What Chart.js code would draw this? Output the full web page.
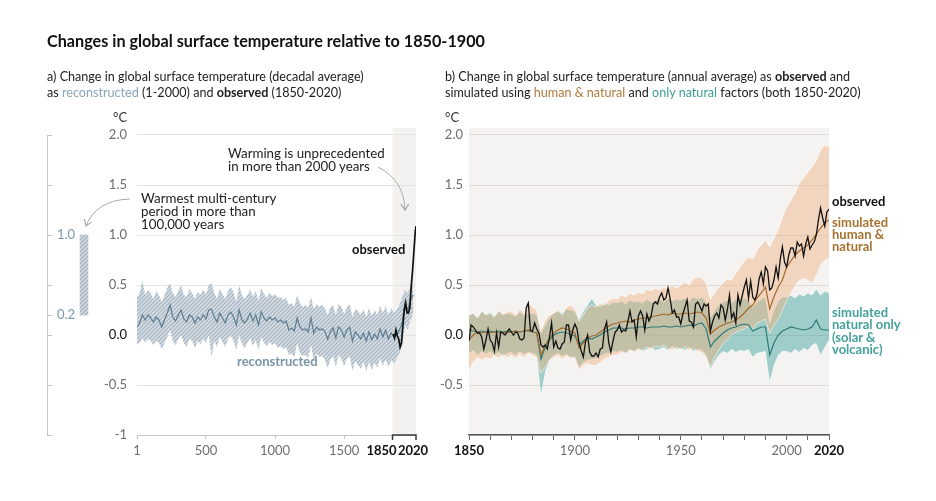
<!DOCTYPE html>
<html><head><meta charset="utf-8">
<script src="https://cdn.jsdelivr.net/npm/chart.js@4.4.1/dist/chart.umd.min.js"></script>
<style>
html,body{margin:0;padding:0;background:#fff;}
#wrap{position:relative;width:936px;height:501px;overflow:hidden;font-family:Lato,'Noto Sans',sans-serif;color:#1a1a1a;}
canvas{position:absolute;top:0;}
.t{position:absolute;white-space:nowrap;font-size:13px;}
svg{position:absolute;left:0;top:0;pointer-events:none;}
</style></head><body>
<div id="wrap">
<canvas id="cA" width="440" height="470" style="left:0px"></canvas>
<canvas id="cS" width="121" height="470" style="left:0px"></canvas>
<canvas id="cB" width="496" height="470" style="left:440px"></canvas>
<svg width="936" height="501">
 <defs><marker id="ah" markerWidth="9" markerHeight="9" refX="6" refY="4" orient="auto" markerUnits="userSpaceOnUse"><path d="M0,0 L6,4 L0,8" fill="none" stroke="#9c9c9c" stroke-width="1"/></marker></defs>
 <path d="M130,199 Q96,200 86,226" fill="none" stroke="#aaaaaa" stroke-width="1" marker-end="url(#ah)"/>
 <path d="M378,167 Q404,180 405,210" fill="none" stroke="#aaaaaa" stroke-width="1" marker-end="url(#ah)"/>
</svg>
<div class="t" style="left:47px;top:31px;font-size:16.2px;font-weight:bold;line-height:20px;color:#111">Changes in global surface temperature relative to 1850-1900</div>
<div class="t" style="left:47px;top:69px;font-size:12.6px;line-height:15.5px;color:#222">a) Change in global surface temperature (decadal average)<br>as <span style="color:#8aa6ba">reconstructed</span> (1-2000) and <b>observed</b> (1850-2020)</div>
<div class="t" style="left:445px;top:69px;font-size:12.6px;line-height:15.5px;color:#222">b) Change in global surface temperature (annual average) as <b>observed</b> and<br>simulated using <span style="color:#b07b3c">human &amp; natural</span> and <span style="color:#3f9d97">only natural</span> factors (both 1850-2020)</div>
<div class="t" style="left:113px;top:109px;line-height:16px;color:#333">°C</div>
<div class="t" style="left:445px;top:109px;line-height:16px;color:#333">°C</div>
<div class="t" style="left:228px;top:147px;line-height:13px;font-size:13.3px;color:#222">Warming is unprecedented<br>in more than 2000 years</div>
<div class="t" style="left:141px;top:192px;line-height:13px;font-size:13.3px;color:#222">Warmest multi-century<br>period in more than<br>100,000 years</div>
<div class="t" style="left:352px;top:243px;line-height:13px;font-weight:bold;color:#111">observed</div>
<div class="t" style="left:237px;top:355px;line-height:13px;font-weight:bold;color:#7a95a7">reconstructed</div>
<div class="t" style="left:832px;top:195px;line-height:13px;font-weight:bold;color:#111">observed</div>
<div class="t" style="left:832px;top:216px;line-height:12px;font-weight:bold;color:#a8722f">simulated<br>human &amp;<br>natural</div>
<div class="t" style="left:832px;top:306px;line-height:12.4px;font-weight:bold;color:#44a29b">simulated<br>natural only<br>(solar &amp;<br>volcanic)</div>
</div>
<script>
// ---------- DATA ----------
// Panel a: reconstructed (20-year steps, 1-2000)
const reconYears = [1].concat(Array.from({length:100},(_,i)=>20*(i+1)));
const reconMean = [0.08,0.12,0.20,0.15,0.20,0.17,0.13,0.18,0.15,0.08,
 0.15,0.22,0.30,0.18,0.14,0.20,0.25,0.16,0.13,0.20,
 0.18,0.12,0.18,0.15,0.20,0.16,0.25,0.26,0.18,0.13,
 0.22,0.17,0.12,0.20,0.23,0.18,0.10,0.25,0.15,0.12,
 0.16,0.22,0.14,0.20,0.10,0.23,0.17,0.14,0.18,0.15,
 0.17,0.13,0.15,0.12,0.14,0.05,0.07,0.04,0.17,0.08,
 0.05,0.06,0.03,0.17,0.02,0.08,0.05,0.06,0.04,-0.04,
 0.03,0.07,-0.03,0.08,0.05,-0.02,0.05,0.08,-0.06,0.03,
 0.00,-0.04,0.02,-0.06,0.03,-0.05,0.01,-0.04,0.06,-0.02,
 0.05,-0.04,0.02,-0.02,0.00,0.05,0.12,0.32,0.25,0.35,0.40];
const reconHigh = [0.38,0.42,0.55,0.40,0.45,0.42,0.36,0.44,0.40,0.33,
 0.40,0.47,0.52,0.42,0.38,0.44,0.50,0.40,0.38,0.46,
 0.42,0.36,0.43,0.40,0.46,0.40,0.50,0.52,0.42,0.36,
 0.46,0.41,0.36,0.44,0.48,0.42,0.33,0.50,0.40,0.36,
 0.40,0.46,0.38,0.44,0.34,0.47,0.41,0.37,0.42,0.39,
 0.41,0.37,0.38,0.35,0.37,0.30,0.32,0.28,0.40,0.32,
 0.28,0.30,0.27,0.38,0.26,0.31,0.28,0.30,0.27,0.20,
 0.27,0.30,0.20,0.31,0.28,0.21,0.28,0.31,0.18,0.26,
 0.24,0.20,0.26,0.18,0.27,0.19,0.25,0.20,0.29,0.22,
 0.29,0.20,0.27,0.22,0.25,0.30,0.38,0.45,0.42,0.48,0.52];
const reconLow = [-0.10,-0.08,-0.03,-0.08,-0.04,-0.06,-0.10,-0.06,-0.08,-0.14,
 -0.08,-0.02,0.05,-0.06,-0.10,-0.04,0.00,-0.08,-0.12,-0.04,
 -0.06,-0.13,-0.06,-0.09,-0.04,-0.08,0.00,-0.22,-0.06,-0.12,
 -0.02,-0.07,-0.12,-0.04,-0.01,-0.06,-0.15,0.00,-0.09,-0.13,
 -0.08,-0.03,-0.11,-0.05,-0.15,-0.02,-0.08,-0.11,-0.07,-0.10,
 -0.08,-0.13,-0.11,-0.14,-0.12,-0.20,-0.18,-0.22,-0.08,-0.18,
 -0.21,-0.20,-0.23,-0.10,-0.25,-0.19,-0.22,-0.21,-0.24,-0.33,
 -0.25,-0.21,-0.32,-0.20,-0.24,-0.31,-0.24,-0.21,-0.36,-0.26,
 -0.30,-0.34,-0.27,-0.36,-0.27,-0.35,-0.28,-0.33,-0.23,-0.31,
 -0.24,-0.32,-0.25,-0.28,-0.24,-0.18,-0.10,0.10,0.05,0.15,0.22];
// Panel a: observed decadal
const obsDecYears = [1855,1865,1875,1885,1895,1905,1915,1925,1935,1945,1955,1965,1975,1985,1995,2005,2015,2020];
const obsDecadal = [0.01,-0.03,0.05,-0.01,-0.04,-0.12,-0.08,0.09,0.25,0.32,0.22,0.22,0.27,0.48,0.64,0.84,1.04,1.09];
// Panel a: scale bar (warmest multi-century period)
const warmRange = [0.2, 1.0];
const periodMarks = [1850, 2020];

// Panel b: observed annual 1850-2020
const annualYears = Array.from({length:171},(_,i)=>1850+i);
const observedAnnual = [
 -0.06,0.10,0.08,0.05,0.02,0.02,-0.02,-0.14,-0.05,0.06,
 -0.05,-0.08,-0.16,0.02,-0.12,0.03,0.02,0.00,0.03,0.06,
 0.03,0.00,0.03,0.02,-0.04,-0.05,-0.03,0.27,0.32,0.05,
 0.04,0.12,0.06,0.02,-0.10,-0.12,-0.10,-0.14,-0.02,0.12,
 -0.12,-0.06,-0.13,-0.14,-0.09,-0.07,0.10,0.10,-0.05,0.05,
 0.11,0.06,-0.08,-0.16,-0.22,-0.07,0.00,-0.17,-0.21,-0.21,
 -0.18,-0.22,-0.14,-0.13,0.06,0.13,-0.08,-0.17,-0.06,0.03,
 0.05,0.10,0.03,0.05,0.04,0.13,0.24,0.13,0.15,-0.02,
 0.19,0.24,0.19,0.05,0.21,0.14,0.19,0.31,0.33,0.31,
 0.38,0.42,0.35,0.37,0.47,0.36,0.22,0.25,0.18,0.18,
 0.11,0.21,0.28,0.35,0.14,0.13,0.08,0.31,0.33,0.29,
 0.24,0.31,0.29,0.31,0.04,0.13,0.19,0.22,0.17,0.30,
 0.27,0.15,0.25,0.40,0.17,0.22,0.12,0.40,0.30,0.39,
 0.48,0.55,0.37,0.54,0.38,0.35,0.41,0.56,0.63,0.51,
 0.68,0.64,0.45,0.47,0.55,0.68,0.57,0.76,0.88,0.73,
 0.68,0.80,0.87,0.87,0.79,0.93,0.89,0.91,0.79,0.91,
 0.98,0.86,0.90,0.93,1.00,1.15,1.27,1.17,1.09,1.23,
 1.26];
// Panel b: simulations (every 2 years)
const simYears = Array.from({length:86},(_,i)=>1850+2*i);
const humanNaturalMean = [
 -0.05,0.00,0.03,0.02,0.03, 0.02,0.03,0.02,0.03,0.02, 0.03,0.04,0.03,0.04,0.05,
 0.03,0.02,-0.20,-0.10,-0.03, 0.02,0.05,0.07,0.06,0.04, 0.02,-0.13,-0.08,-0.03,-0.01,
 0.00,0.03,0.06,0.09,0.11, 0.12,0.13,0.14,0.13,0.15, 0.16,0.17,0.17,0.18,0.19,
 0.20,0.21,0.20,0.22,0.21, 0.21,0.22,0.21,0.22,0.23, 0.22,0.17,0.01,0.05,0.08,
 0.10,0.12,0.13,0.15,0.18, 0.22,0.27,0.30,0.37,0.42, 0.48,0.26,0.38,0.48,0.55,
 0.68,0.74,0.80,0.84,0.87, 0.90,0.95,1.01,1.07,1.12, 1.15];
const humanNaturalHigh = [
 0.20,0.22,0.17,0.24,0.20, 0.22,0.18,0.25,0.21,0.23, 0.24,0.20,0.26,0.22,0.32,
 0.28,0.25,0.05,0.15,0.20, 0.22,0.25,0.20,0.28,0.30, 0.26,0.14,0.20,0.27,0.30,
 0.28,0.32,0.30,0.35,0.37, 0.36,0.40,0.38,0.42,0.40, 0.43,0.41,0.46,0.44,0.47,
 0.45,0.48,0.46,0.50,0.47, 0.50,0.53,0.50,0.56,0.58, 0.57,0.52,0.36,0.42,0.48,
 0.52,0.56,0.55,0.62,0.68, 0.74,0.78,0.76,0.85,0.90, 0.95,0.88,0.97,1.05,1.18,
 1.28,1.35,1.42,1.52,1.57, 1.63,1.68,1.75,1.85,1.90, 1.88];
const humanNaturalLow = [
 -0.35,-0.27,-0.22,-0.25,-0.22, -0.24,-0.20,-0.23,-0.19,-0.22, -0.20,-0.23,-0.19,-0.22,-0.18,
 -0.20,-0.22,-0.38,-0.32,-0.25, -0.22,-0.20,-0.24,-0.21,-0.23, -0.22,-0.35,-0.30,-0.28,-0.30,
 -0.30,-0.27,-0.24,-0.22,-0.20, -0.20,-0.17,-0.18,-0.15,-0.17, -0.14,-0.15,-0.12,-0.14,-0.11,
 -0.12,-0.10,-0.13,-0.15,-0.12, -0.14,-0.12,-0.15,-0.13,-0.16, -0.17,-0.22,-0.32,-0.22,-0.15,
 -0.08,-0.05,0.00,0.03,0.05, 0.06,0.09,0.06,0.12,0.14, 0.16,0.02,0.10,0.16,0.25,
 0.35,0.42,0.50,0.55,0.57, 0.55,0.52,0.60,0.70,0.75, 0.77];
const naturalMean = [
 0.05,0.04,0.03,0.04,0.03, 0.04,0.03,0.04,0.03,0.04, 0.03,0.04,0.03,0.04,0.04,
 0.03,0.02,-0.24,-0.12,-0.05, 0.00,0.02,0.03,0.02,0.01, -0.01,-0.10,-0.06,-0.03,-0.04,
 -0.02,0.00,0.03,0.05,0.07, 0.07,0.07,0.06,0.07,0.07, 0.08,0.08,0.07,0.08,0.08,
 0.08,0.09,0.08,0.08,0.09, 0.08,0.09,0.10,0.09,0.11, 0.12,0.06,-0.12,-0.06,-0.02,
 0.02,0.05,0.07,0.08,0.10, 0.11,0.10,0.04,0.06,0.08, 0.08,-0.20,-0.08,0.00,0.04,
 0.06,0.08,0.07,0.06,0.05, 0.06,0.08,0.15,0.06,0.05, 0.05];
const naturalHigh = [
 0.20,0.22,0.18,0.24,0.21, 0.23,0.19,0.24,0.20,0.22, 0.21,0.19,0.23,0.20,0.21,
 0.22,0.20,0.02,0.10,0.18, 0.22,0.24,0.22,0.26,0.25, 0.24,0.16,0.24,0.30,0.37,
 0.30,0.28,0.32,0.30,0.33, 0.32,0.34,0.31,0.35,0.33, 0.34,0.32,0.36,0.33,0.35,
 0.36,0.33,0.37,0.34,0.36, 0.35,0.37,0.34,0.38,0.36, 0.38,0.33,0.18,0.25,0.30,
 0.33,0.35,0.32,0.36,0.34, 0.37,0.35,0.28,0.33,0.36, 0.38,0.12,0.25,0.34,0.38,
 0.38,0.40,0.37,0.41,0.39, 0.42,0.40,0.46,0.40,0.44, 0.42];
const naturalLow = [
 -0.18,-0.15,-0.20,-0.16,-0.19, -0.16,-0.20,-0.17,-0.21,-0.18, -0.17,-0.20,-0.16,-0.19,-0.17,
 -0.18,-0.20,-0.59,-0.36,-0.25, -0.20,-0.18,-0.21,-0.19,-0.22, -0.23,-0.32,-0.27,-0.25,-0.24,
 -0.23,-0.21,-0.19,-0.18,-0.16, -0.17,-0.15,-0.18,-0.14,-0.16, -0.13,-0.16,-0.14,-0.12,-0.15,
 -0.14,-0.12,-0.15,-0.11,-0.14, -0.13,-0.15,-0.12,-0.16,-0.14, -0.15,-0.20,-0.34,-0.26,-0.20,
 -0.16,-0.18,-0.14,-0.17,-0.15, -0.16,-0.14,-0.22,-0.18,-0.17, -0.16,-0.46,-0.30,-0.20,-0.16,
 -0.16,-0.18,-0.14,-0.17,-0.13, -0.15,-0.10,-0.08,-0.20,-0.12, -0.05];

// Tick sets
const yTicks = [-1,-0.5,0,0.5,1,1.5,2];
const aXTicks = [1,500,1000,1500];
const scaleBarTicks = [-1,-0.5,0,0.2,0.5,1,1.5,2];
const scaleBarLabelled = [0.2,1];
const bXTicks = Array.from({length:18},(_,i)=>1850+10*i);
const bXLabelled = [1850,1900,1950,2000,2020];
const bXBold = [1850,2020];

// ---------- helpers ----------
const pts = (xs, ys) => xs.map((x,i)=>({x, y: ys[i]}));
const tv = c => (c && c.tick) ? c.tick.value : null;
function hatch(bg, fg){
  const c=document.createElement('canvas'); c.width=c.height=4;
  const g=c.getContext('2d'); g.fillStyle=bg; g.fillRect(0,0,4,4);
  g.strokeStyle=fg; g.lineWidth=1.3; g.beginPath();
  g.moveTo(-1,5); g.lineTo(5,-1); g.moveTo(-1,1); g.lineTo(1,-1); g.moveTo(3,5); g.lineTo(5,3); g.stroke();
  return g.createPattern(c,'repeat');
}
const shade = {
  id:'shade',
  beforeDraw(chart, args, o){
    const {ctx, chartArea:a, scales:{x}} = chart;
    const x0 = o.from==null ? a.left : x.getPixelForValue(o.from);
    const x1 = o.to==null ? a.right : x.getPixelForValue(o.to);
    ctx.save(); ctx.fillStyle=o.color; ctx.fillRect(x0, a.top, x1-x0, a.bottom-a.top); ctx.restore();
  }
};
const bracket = {
  id:'bracket',
  afterDraw(chart){
    const {ctx, chartArea:a, scales:{x}} = chart;
    const x0 = x.getPixelForValue(periodMarks[0]), x1 = x.getPixelForValue(periodMarks[1]);
    const y = a.bottom;
    ctx.save(); ctx.strokeStyle='#3a3a3a'; ctx.lineWidth=1.5;
    ctx.beginPath(); ctx.moveTo(x0,y+5); ctx.lineTo(x0,y); ctx.lineTo(x1,y); ctx.lineTo(x1,y+5); ctx.stroke();
    ctx.font="bold 13px Lato, 'Noto Sans', sans-serif"; ctx.fillStyle='#111'; ctx.textBaseline='middle'; ctx.textAlign='center';
    ctx.fillText(String(periodMarks[0]), x0-11, y+16);
    ctx.fillText(String(periodMarks[1]), x1-3, y+16);
    ctx.restore();
  }
};

function build(){
  Chart.defaults.font.family = "Lato, 'Noto Sans', sans-serif";
  Chart.defaults.font.size = 13;
  Chart.defaults.animation = false;
  const gray = '#6e6e6e';
  const reconPattern = hatch('#d9e0e6', '#a8b7c3');
  const barPattern = hatch('#d6dee4', '#a2b2bf');

  const yCommon = (w, pad, labelFn, gridColor) => ({
    min:-1, max:2.07,
    afterBuildTicks: s => { s.ticks = yTicks.map(v=>({value:v})); },
    afterFit: s => { s.width = w; },
    border:{display:false},
    grid:{color:gridColor, drawTicks:false},
    ticks:{padding:pad, callback: labelFn,
      color: c => tv(c)===0 ? '#111' : gray, font:{size:13}}
  });

  // Panel a
  new Chart(document.getElementById('cA'), {
    type:'line',
    data:{datasets:[
      {data:pts(obsDecYears, obsDecadal), borderColor:'#111', borderWidth:1.7, pointRadius:0, fill:false},
      {data:pts(reconYears, reconMean), borderColor:'#5f7d90', borderWidth:1.2, pointRadius:0, fill:false},
      {data:pts(reconYears, reconHigh), borderWidth:0, pointRadius:0, backgroundColor:reconPattern, fill:'+1'},
      {data:pts(reconYears, reconLow), borderWidth:0, pointRadius:0, fill:false}
    ]},
    options:{
      responsive:false, devicePixelRatio:1,
      layout:{padding:{left:0, top:128, right:24, bottom:0}},
      plugins:{legend:{display:false}, tooltip:{enabled:false}, shade:{from:1850, to:2020, color:'#f3f2f0'}},
      scales:{
        x:{type:'linear', min:1, max:2020,
          afterBuildTicks: s => { s.ticks = aXTicks.map(v=>({value:v})); },
          afterFit: s => { s.height = 35; },
          border:{color:'#c8c8c8', width:1},
          grid:{drawOnChartArea:false, tickLength:4, color:'#c8c8c8'},
          ticks:{color:gray, padding:4, autoSkip:false, maxRotation:0, callback:v=>String(v)}},
        y: yCommon(137, 10, v => v===-1 ? '-1' : v.toFixed(1), '#e4e4e4')
      }
    },
    plugins:[shade, bracket]
  });

  // Panel a: scale bar
  new Chart(document.getElementById('cS'), {
    type:'bar',
    data:{labels:['warmest'], datasets:[{data:[warmRange], backgroundColor:barPattern, barThickness:8, borderWidth:0}]},
    options:{
      responsive:false, devicePixelRatio:1,
      layout:{padding:{left:0, top:135, right:0, bottom:35}},
      plugins:{legend:{display:false}, tooltip:{enabled:false}},
      scales:{
        x:{display:false},
        y:{min:-1, max:2, position:'left',
          afterBuildTicks: s => { s.ticks = scaleBarTicks.map(v=>({value:v})); },
          afterFit: s => { s.width = 47; },
          border:{color:'#c5c5c5', width:1},
          grid:{drawOnChartArea:false, tickLength:-5, color:'#c5c5c5'},
          ticks:{mirror:true, padding:10, color:'#7d9ab0', font:{size:13},
            callback: v => scaleBarLabelled.includes(v) ? v.toFixed(1) : ''}}
      }
    }
  });

  // Panel b
  const edge = 'rgba(255,255,255,0.85)';
  new Chart(document.getElementById('cB'), {
    type:'line',
    data:{datasets:[
      {data:pts(annualYears, observedAnnual), borderColor:'#111', borderWidth:1.3, pointRadius:0, fill:false},
      {data:pts(simYears, humanNaturalMean), borderColor:'#a36a2c', borderWidth:1.2, pointRadius:0, fill:false},
      {data:pts(simYears, naturalMean), borderColor:'#2c7c76', borderWidth:1.2, pointRadius:0, fill:false},
      {data:pts(simYears, humanNaturalHigh), borderColor:edge, borderWidth:0.8, pointRadius:0, backgroundColor:'rgba(240,177,129,0.45)', fill:'+1'},
      {data:pts(simYears, humanNaturalLow), borderColor:edge, borderWidth:0.8, pointRadius:0, fill:false},
      {data:pts(simYears, naturalHigh), borderColor:edge, borderWidth:0.8, pointRadius:0, backgroundColor:'rgba(63,162,155,0.47)', fill:'+1'},
      {data:pts(simYears, naturalLow), borderColor:edge, borderWidth:0.8, pointRadius:0, fill:false}
    ]},
    options:{
      responsive:false, devicePixelRatio:1,
      layout:{padding:{left:0, top:128, right:107, bottom:0}},
      plugins:{legend:{display:false}, tooltip:{enabled:false}, shade:{color:'#f4f3f1'}},
      scales:{
        x:{type:'linear', min:1850, max:2020,
          afterBuildTicks: s => { s.ticks = bXTicks.map(v=>({value:v})); },
          afterFit: s => { s.height = 35; },
          border:{color:'#555', width:1.5},
          grid:{drawOnChartArea:false, tickLength:5, color:'#666'},
          ticks:{padding:3, autoSkip:false, maxRotation:0,
            callback: v => bXLabelled.includes(v) ? String(v) : '',
            color: c => bXBold.includes(tv(c)) ? '#111' : gray,
            font: c => ({size:13, weight: bXBold.includes(tv(c)) ? 'bold' : 'normal'})}},
        y: yCommon(29, 6, v => v===-1 ? '' : v.toFixed(1), '#dedbd7')
      }
    },
    plugins:[shade]
  });
}
Promise.all([document.fonts.load('13px Lato'), document.fonts.load('bold 13px Lato')]).then(build, build);
</script>
</body></html>
